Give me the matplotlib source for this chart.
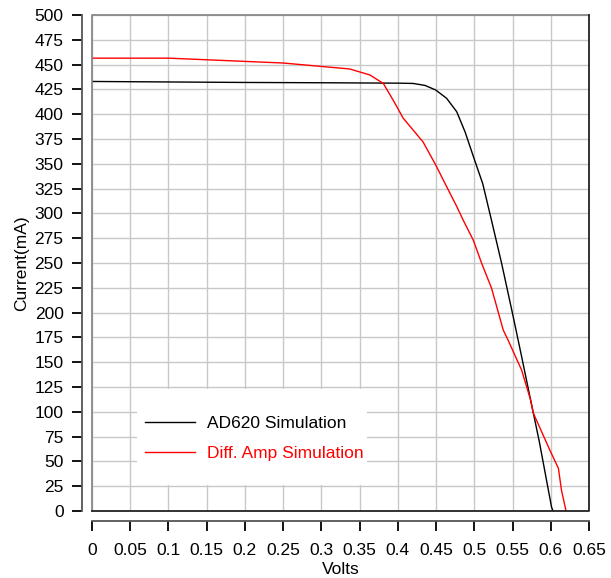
import numpy as np
import matplotlib
matplotlib.use("Agg")
import matplotlib.pyplot as plt
from matplotlib.patches import Rectangle

plt.rcParams["font.family"] = ["Liberation Sans", "DejaVu Sans"]

# --- data ---
ad620_v = [0.0, 0.10, 0.20, 0.30, 0.40, 0.42, 0.4356, 0.4495, 0.4638, 0.477,
           0.488, 0.4996, 0.511, 0.5225, 0.5357, 0.550, 0.5619, 0.5736,
           0.585, 0.601, 0.603]
ad620_i = [433, 432.5, 432, 431.7, 431.3, 431, 429, 424.4, 416, 402.5,
           382, 355.5, 330, 293, 249.7, 199, 155.6, 112,
           70, 4, 0]

diff_v = [0.0, 0.10, 0.25, 0.337, 0.3636, 0.381, 0.394, 0.407, 0.420, 0.433,
          0.4494, 0.4638, 0.477, 0.4856, 0.4987, 0.5096, 0.5226, 0.5378,
          0.5443, 0.5619, 0.5736, 0.577, 0.599, 0.61, 0.614, 0.62]
diff_i = [456.5, 456.5, 451.6, 445.6, 439.5, 431, 414, 396, 384, 372,
          349, 327, 307, 293, 273, 249.7, 224.5, 182.5,
          172, 142, 112, 99, 61, 43, 21, 0]

x_ticks = np.round(np.arange(0, 0.651, 0.05), 2)
y_ticks = np.arange(0, 501, 25)

fig = plt.figure(figsize=(6.11, 5.78), dpi=100)
ax = fig.add_axes([92 / 611, 1 - 511 / 578, 497 / 611, 496 / 578])

ax.plot(ad620_v, ad620_i, color="black", lw=1, label="AD620 Simulation", zorder=4)
ax.plot(diff_v, diff_i, color="red", lw=1, label="Diff. Amp Simulation", zorder=4)

ax.set_xlim(0, 0.65)
ax.set_ylim(0, 500)
ax.set_xticks(x_ticks)
ax.set_xticklabels([("%g" % t) for t in x_ticks])
ax.set_yticks(y_ticks)
ax.grid(True, color="#c8c8c8", lw=1)
ax.set_axisbelow(True)

# detached axis lines, box around the plot area
for s in ["top", "right"]:
    ax.spines[s].set_visible(False)
for s in ["left", "bottom"]:
    ax.spines[s].set_position(("outward", 7))
    ax.spines[s].set_color("#555555")
    ax.spines[s].set_linewidth(1.3)
ax.tick_params(length=7, width=1.3, color="black", labelsize=12.5)
ax.tick_params(axis="y", pad=6.5)
ax.tick_params(axis="x", pad=9)

ax.plot([0, 0, 1], [0, 1, 1], transform=ax.transAxes, color="#888888", lw=1.3,
        clip_on=False, zorder=5)
ax.plot([0, 1, 1], [0, 0, 1], transform=ax.transAxes, color="#222222", lw=1.3,
        clip_on=False, zorder=5)

ax.set_xlabel("Volts", fontsize=12.5, labelpad=3)
ax.set_ylabel("Current(mA)", fontsize=12.5, labelpad=4)

# white legend area
ax.add_patch(Rectangle((0.0905, 0.052), 0.463, 0.194, transform=ax.transAxes,
                       facecolor="white", edgecolor="none", zorder=2))
leg = ax.legend(loc="upper left", bbox_to_anchor=(0.107, 0.192), frameon=False,
                fontsize=12.5, handlelength=2.88, handletextpad=0.69,
                labelspacing=0.84, borderpad=0, borderaxespad=0)
for txt, c in zip(leg.get_texts(), ["black", "red"]):
    txt.set_color(c)

fig.savefig("out.png", dpi=100)
